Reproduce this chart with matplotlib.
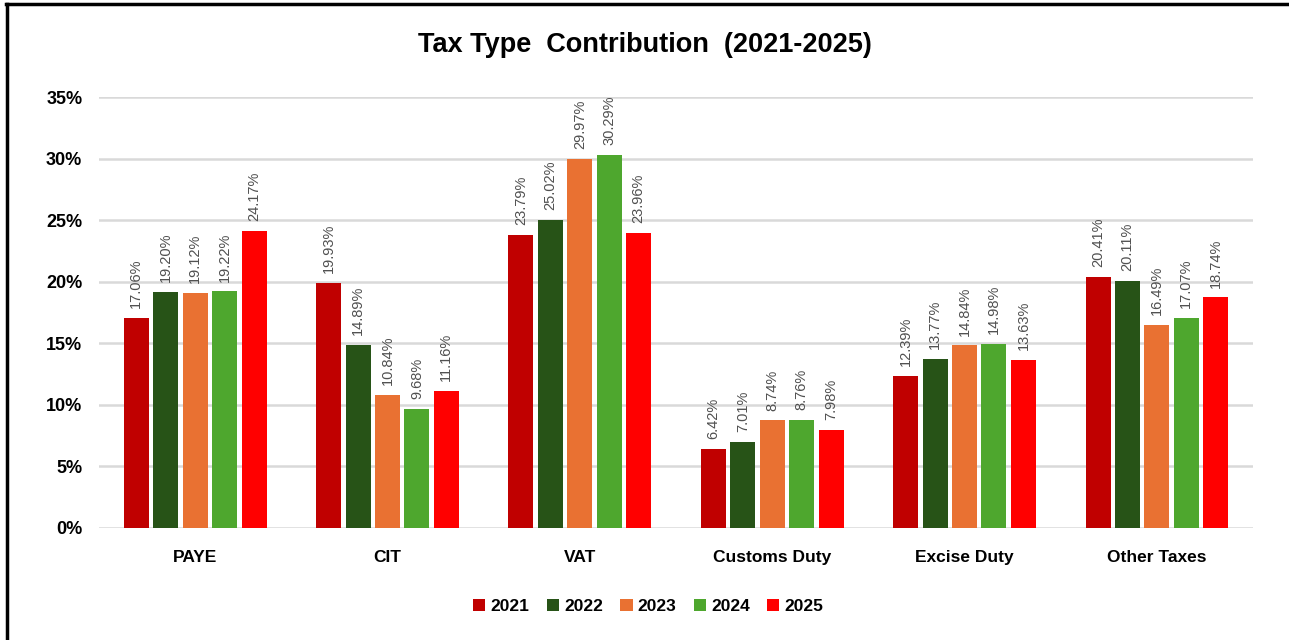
import numpy as np
import matplotlib.pyplot as plt
from matplotlib.lines import Line2D

categories = ["PAYE", "CIT", "VAT", "Customs Duty", "Excise Duty", "Other Taxes"]
years = ["2021", "2022", "2023", "2024", "2025"]
share_2021 = [17.06, 19.93, 23.79, 6.42, 12.39, 20.41]
share_2022 = [19.20, 14.89, 25.02, 7.01, 13.77, 20.11]
share_2023 = [19.12, 10.84, 29.97, 8.74, 14.84, 16.49]
share_2024 = [19.22, 9.68, 30.29, 8.76, 14.98, 17.07]
share_2025 = [24.17, 11.16, 23.96, 7.98, 13.63, 18.74]
colors = ["#C00000", "#275317", "#E97132", "#4EA72E", "#FF0000"]

series = [share_2021, share_2022, share_2023, share_2024, share_2025]
fam = ["Liberation Sans", "DejaVu Sans"]

fig = plt.figure(figsize=(12.89, 6.4), dpi=100)
ax = fig.add_axes([0.0768, 0.175, 0.8953, 0.673])

x = np.arange(len(categories))
step = 0.153
width = 0.13
for i, (yr, vals, col) in enumerate(zip(years, series, colors)):
    pos = x + (i - 2) * step
    ax.bar(pos, vals, width, color=col, label=yr, zorder=3)
    for px, v in zip(pos, vals):
        ax.text(px, v + 0.8, f"{v:.2f}%", rotation=90, ha="center", va="bottom",
                fontsize=10.5, color="#505050", family=fam)

ax.set_xlim(-0.5, len(categories) - 0.5)
ax.set_ylim(0, 35)
ax.set_yticks(range(0, 36, 5))
ax.set_yticklabels([f"{t}%" for t in range(0, 36, 5)], fontsize=13, fontweight="bold",
                   family=fam)
ax.set_xticks(x)
ax.set_xticklabels(categories, fontsize=12.5, fontweight="bold", family=fam)
ax.tick_params(axis="both", length=0)
ax.tick_params(axis="y", pad=12)
ax.tick_params(axis="x", pad=16)
ax.grid(axis="y", color="#D9D9D9", linewidth=1.8, zorder=0)
for s in ax.spines.values():
    s.set_visible(False)

fig.text(0.5, 0.93, "Tax Type  Contribution  (2021-2025)", ha="center", va="center",
         fontsize=19.5, fontweight="bold", family=fam)

fig.legend(loc="center", bbox_to_anchor=(0.503, 0.053), ncol=5, frameon=False,
           handlelength=0.7, handleheight=0.7, handletextpad=0.3, columnspacing=1.0,
           prop={"size": 12.5, "weight": "bold", "family": fam})

# black outline along the left and top edges
fig.add_artist(Line2D([0.0055, 0.0055], [0.0, 0.9935], color="black", linewidth=2.5,
                      transform=fig.transFigure))
fig.add_artist(Line2D([0.0045, 1.0], [0.9935, 0.9935], color="black", linewidth=2.5,
                      transform=fig.transFigure))

fig.savefig("out.png", dpi=100, facecolor="white")
